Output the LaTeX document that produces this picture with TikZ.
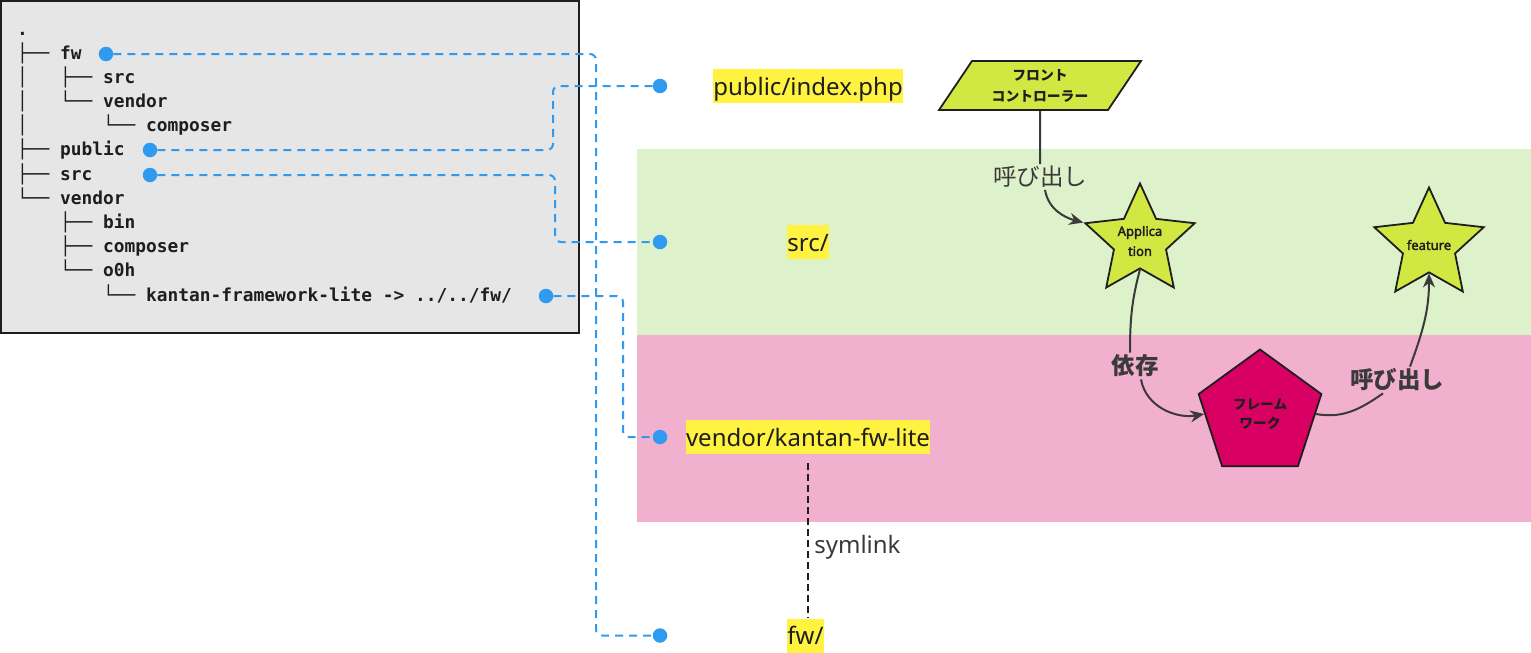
\documentclass[tikz,border=0pt]{standalone}
\usepackage{fontspec}
\setmainfont{Noto Sans}[AutoFakeBold=2.5]
\newfontfamily\jpfont{Noto Sans CJK JP}
\newfontfamily\treefont{DejaVu Sans Mono}
\usetikzlibrary{shapes.geometric,arrows.meta}

\definecolor{treebg}{HTML}{E6E6E6}
\definecolor{ink}{HTML}{1E1E1E}
\definecolor{linkblue}{HTML}{2F9BF0}
\definecolor{hl}{HTML}{FFF240}
\definecolor{srcband}{HTML}{DDF1CB}
\definecolor{vendorband}{HTML}{F2B0CF}
\definecolor{lime}{HTML}{D2E842}
\definecolor{fwpink}{HTML}{D80062}
\definecolor{edgegray}{HTML}{3A3A3A}

\begin{document}
\begin{tikzpicture}[x=1pt,y=-1pt,
  row/.style={anchor=base west, inner sep=0pt, text=ink,
    font=\treefont\bfseries\fontsize{17.86}{20}\selectfont},
  dot/.style={circle, fill=linkblue, inner sep=0pt, minimum size=14.5pt},
  link/.style={linkblue, line width=2pt, dash pattern=on 8pt off 6pt, rounded corners=6pt},
  dirlabel/.style={fill=hl, inner xsep=0pt, inner ysep=0pt, text height=26pt, text depth=8pt,
    text=ink, font=\fontsize{24}{28}\selectfont},
  fcbox/.style={trapezium, trapezium left angle=45, trapezium right angle=135,
    trapezium stretches body, minimum width=202pt, minimum height=49pt, inner sep=0pt,
    draw=ink, line width=1.8pt, fill=lime, align=center, text=ink,
    font=\jpfont\bfseries\fontsize{13.8}{21}\selectfont},
  starbox/.style={star, star points=5, star point ratio=2.1, minimum size=115pt,
    inner sep=0pt, draw=ink, line width=1.8pt, fill=lime},
  startext/.style={align=center, text=ink, font=\bfseries\fontsize{13}{20}\selectfont},
  fwbox/.style={regular polygon, regular polygon sides=5, minimum size=129pt, inner sep=0pt,
    draw=ink, line width=1.8pt, fill=fwpink, align=center, text=ink,
    font=\jpfont\bfseries\fontsize{13.7}{19.5}\selectfont},
  calllabel/.style={inner sep=2pt, text=edgegray, font=\jpfont\fontsize{23.5}{28}\selectfont},
  edgeline/.style={edgegray, line width=2pt},
  tip/.style={-{Stealth[length=14pt,width=12pt]}}
]
\useasboundingbox (0,0) rectangle (1531,653);

% layers
\fill[srcband] (637,149) rectangle (1531,335);
\fill[vendorband] (637,335) rectangle (1531,522);

% directory tree
\draw[ink, line width=2pt, fill=treebg] (1,1) rectangle (579,333);
\node[row] (r0) at (17,35) {.};
\node[row] (r1) at (17,59) {├──~fw};
\node[row] (r2) at (17,83.2) {│~~~├──~src};
\node[row] (r3) at (17,107.4) {│~~~└──~vendor};
\node[row] (r4) at (17,131.6) {│~~~~~~~└──~composer};
\node[row] (r5) at (17,155.8) {├──~public};
\node[row] (r6) at (17,180) {├──~src};
\node[row] (r7) at (17,204.2) {└──~vendor};
\node[row] (r8) at (17,228.4) {~~~~├──~bin};
\node[row] (r9) at (17,252.6) {~~~~├──~composer};
\node[row] (r10) at (17,276.8) {~~~~└──~o0h};
\node[row] (r11) at (17,301) {~~~~~~~~└──~kantan-framework-lite~->~../../fw/};

% link ends
\node[dot] (dfw) at (106,54) {};
\node[dot] (dpub) at (150,150) {};
\node[dot] (dsrc) at (150,175) {};
\node[dot] (dkfw) at (546,296) {};
\node[dot] (dpubR) at (660,86) {};
\node[dot] (dsrcR) at (660,242) {};
\node[dot] (dkfwR) at (660,437) {};
\node[dot] (dfwR) at (660,635.5) {};

\draw[link] (dfw) -| ([xshift=-64pt]dfwR.center) -- (dfwR);
\draw[link] (dpub) -| ([xshift=-107pt]dpubR.center) -- (dpubR);
\draw[link] (dsrc) -| ([xshift=-105pt]dsrcR.center) -- (dsrcR);
\draw[link] (dkfw) -| ([xshift=-37pt]dkfwR.center) -- (dkfwR);

% directories
\node[dirlabel] (pubR) at (808,86) {public/index.php};
\node[dirlabel] (srcR) at (808,242) {src/};
\node[dirlabel] (vkfw) at (808,437) {vendor/kantan-fw-lite};
\node[dirlabel] (fwR) at (805.5,635.5) {fw/};

\draw[ink, line width=2pt, dash pattern=on 7pt off 4pt]
  ([yshift=-9pt]vkfw.south) -- (vkfw.south |- fwR.north)
  node[pos=.54, right=2pt, text=edgegray, font=\fontsize{24}{28}\selectfont] {symlink};

% classes
\node[fcbox] (fc) at (1040,85.5) {フロント\\コントローラー};
\node[starbox, label={[startext]center:Applica\\tion}] (app) at (1140,241) {};
\node[starbox, label={[startext]center:feature}] (feat) at (1429,245) {};
\node[fwbox] (fwk) at (1260,414) {フレーム\\ワーク};

\node[calllabel] (call1) at (1040,177) {呼び出し};
\node[calllabel, font=\jpfont\bfseries\fontsize{23.5}{28}\selectfont] (dep) at (1135,366) {依存};
\node[calllabel, font=\jpfont\bfseries\fontsize{23.5}{28}\selectfont] (call2) at (1397,380) {呼び出し};

\draw[edgeline] (fc) -- (call1);
\draw[edgeline, tip] ([xshift=5pt]call1.south) to[out=-80,in=165] (app.outer point 2);
\draw[edgeline] (app.inner point 3) to[out=-105,in=90] ([xshift=-5pt]dep.north);
\draw[edgeline, tip] ([xshift=6pt]dep.south) to[out=-80,in=190] (fwk.west);
\draw[edgeline] (fwk.east) to[out=-10,in=215] ([xshift=-14pt]call2.south);
\draw[edgeline, tip] ([xshift=13pt]call2.north) to[out=70,in=-90] (feat.inner point 3);
\end{tikzpicture}
\end{document}
